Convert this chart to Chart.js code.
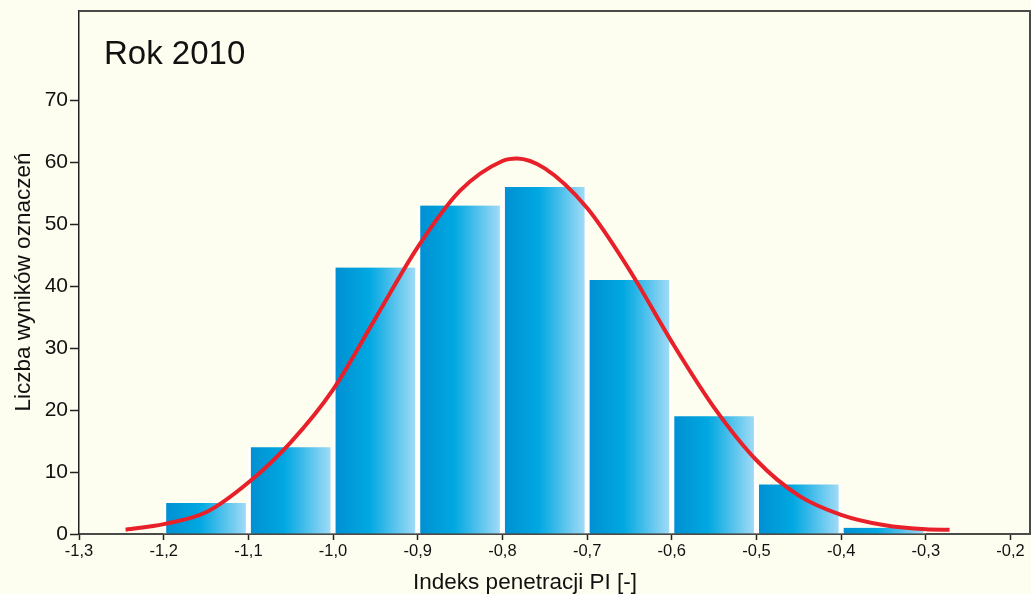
<!DOCTYPE html>
<html>
<head>
<meta charset="utf-8">
<script src="https://cdn.jsdelivr.net/npm/chart.js@4.4.1/dist/chart.umd.min.js"></script>
<style>
  html, body { margin: 0; padding: 0; background: #fefef0; }
  #wrap { width: 1031px; height: 594px; position: relative; }
</style>
</head>
<body>
<div id="wrap"><canvas id="c" width="1031" height="594"></canvas></div>
<script>
// ---- Data ----
const binCenters = [-1.15, -1.05, -0.95, -0.85, -0.75, -0.65, -0.55, -0.45, -0.35];
const binCounts  = [5, 14, 43, 53, 56, 41, 19, 8, 1];

const curveX = [-1.245, -1.20, -1.15, -1.10, -1.05, -1.00, -0.95, -0.90, -0.85, -0.80, -0.783, -0.75, -0.70, -0.65, -0.60, -0.55, -0.50, -0.45, -0.40, -0.35, -0.30, -0.272];
const curveY = [0.7, 1.6, 3.5, 8.3, 14.8, 23.3, 34.8, 46.3, 55.4, 60.2, 60.6, 59.0, 52.6, 42.6, 31.0, 20.4, 11.9, 6.2, 3.1, 1.45, 0.75, 0.68];

const xTickValues = [-1.3, -1.2, -1.1, -1.0, -0.9, -0.8, -0.7, -0.6, -0.5, -0.4, -0.3, -0.2];
const yTickValues = [0, 10, 20, 30, 40, 50, 60, 70];

const chartTitle = 'Rok 2010';
const xTitle = 'Indeks penetracji PI [-]';
const yTitle = 'Liczba wyników oznaczeń';

// ---- Chart ----
const FONT = '"Liberation Sans", Arial, sans-serif';

function barGradient(ctx) {
  const chart = ctx.chart;
  const xs = chart.scales && chart.scales.x;
  if (!chart.chartArea || !xs || ctx.dataIndex === undefined) return '#00a8e0';
  const c = xs.getPixelForValue(binCenters[ctx.dataIndex]);
  const g = chart.ctx.createLinearGradient(c - 40, 0, c + 40, 0);
  g.addColorStop(0, '#0090d3');
  g.addColorStop(0.42, '#00a8e1');
  g.addColorStop(0.55, '#22b2e6');
  g.addColorStop(1, '#a0dbf6');
  return g;
}

const decorPlugin = {
  id: 'decor',
  beforeDraw(chart) {
    const c = chart.ctx;
    c.save();
    c.fillStyle = '#fefef0';
    c.fillRect(0, 0, chart.width, chart.height);
    c.restore();
  },
  afterDraw(chart) {
    const c = chart.ctx;
    const a = chart.chartArea;
    c.save();
    // top & right frame
    c.strokeStyle = '#4a4a48';
    c.lineWidth = 2;
    c.beginPath();
    c.moveTo(a.left, a.top);
    c.lineTo(a.right, a.top);
    c.lineTo(a.right, a.bottom);
    c.stroke();
    // in-plot title
    c.fillStyle = '#111';
    c.font = '33px ' + FONT;
    c.textAlign = 'left';
    c.textBaseline = 'alphabetic';
    c.fillText(chartTitle, 104, 64);
    // axis titles
    c.font = '22.5px ' + FONT;
    c.textAlign = 'center';
    c.fillText(xTitle, 525, 589);
    c.translate(30, 282);
    c.rotate(-Math.PI / 2);
    c.fillText(yTitle, 0, 0);
    c.restore();
  }
};

new Chart(document.getElementById('c'), {
  type: 'bar',
  data: {
    datasets: [
      {
        type: 'line',
        data: curveX.map((x, i) => ({ x: x, y: curveY[i] })),
        borderColor: '#e8202a',
        borderWidth: 4,
        pointRadius: 0,
        fill: false,
        cubicInterpolationMode: 'monotone',
        order: 0
      },
      {
        type: 'bar',
        data: binCenters.map((x, i) => ({ x: x, y: binCounts[i] })),
        backgroundColor: barGradient,
        borderColor: '#ffffff',
        borderWidth: { left: 3, right: 3, top: 0, bottom: 0 },
        borderSkipped: 'start',
        barThickness: 85,
        order: 1
      }
    ]
  },
  options: {
    responsive: false,
    animation: false,
    events: [],
    layout: { padding: { left: 0, right: 1, top: 11, bottom: 0 } },
    plugins: {
      legend: { display: false },
      tooltip: { enabled: false },
      title: { display: false }
    },
    scales: {
      x: {
        type: 'linear',
        min: -1.3,
        max: -0.177,
        offset: false,
        afterFit(s) { s.height = 60; s.paddingLeft = 0; s.paddingRight = 0; },
        afterBuildTicks(s) { s.ticks = xTickValues.map(v => ({ value: v })); },
        grid: { offset: false, drawOnChartArea: false, drawTicks: true, tickLength: 6, tickColor: '#222', tickWidth: 1.5 },
        border: { display: true, color: '#4a4a48', width: 2 },
        ticks: {
          padding: 2,
          color: '#111',
          font: { family: FONT, size: 16.5 },
          maxRotation: 0,
          autoSkip: false,
          callback: v => v.toFixed(1).replace('.', ',')
        }
      },
      y: {
        type: 'linear',
        min: 0,
        max: 84.4,
        afterFit(s) { s.width = 79; s.paddingTop = 0; s.paddingBottom = 0; },
        afterBuildTicks(s) { s.ticks = yTickValues.map(v => ({ value: v })); },
        grid: { drawOnChartArea: false, drawTicks: true, tickLength: 9, tickColor: '#222', tickWidth: 1.5 },
        border: { display: true, color: '#222', width: 1.5 },
        ticks: {
          padding: 2,
          color: '#111',
          font: { family: FONT, size: 21 },
          autoSkip: false,
          callback: v => String(v)
        }
      }
    }
  },
  plugins: [decorPlugin]
});
</script>
</body>
</html>
